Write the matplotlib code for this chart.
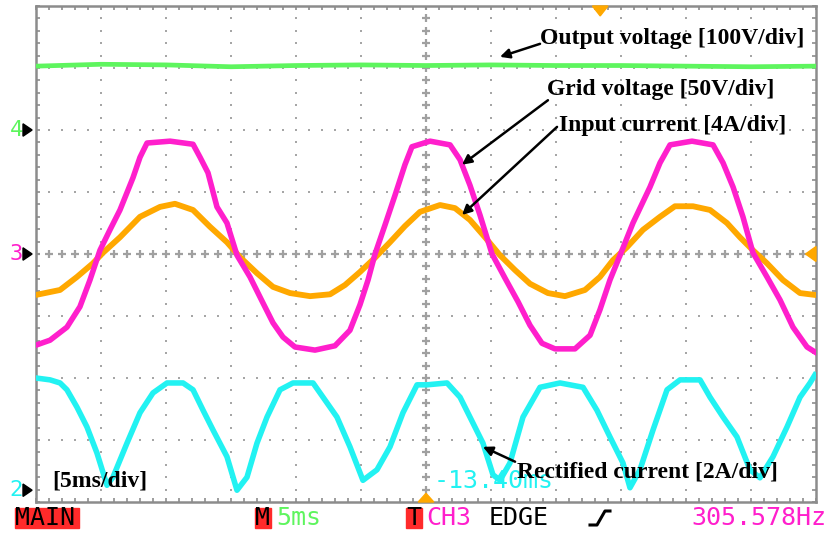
"""Oscilloscope capture: output voltage, grid voltage, input current and
rectified current (5 ms/div). Renders out.png (832x533)."""
import numpy as np
import matplotlib
matplotlib.use("Agg")
import matplotlib.pyplot as plt
from matplotlib.patches import Rectangle, Polygon

# time in ms (5 ms/div), values in screen divisions (0 = centre line)
out_t = [-30, -25, -20, -15, -10, -5, 0, 5, 10, 15, 20, 25, 30]
out_v = [3.03, 3.06, 3.05, 3.02, 3.04, 3.05, 3.04, 3.05, 3.04, 3.04, 3.03, 3.02, 3.03]

grid_t = [-30.0, -28.92, -27.62, -26.62, -25.85, -25.08, -24.31, -23.54, -22.54, -22.0,
          -21.46, -19.69, -17.92, -17.38, -16.77, -16.08, -15.31, -14.54, -13.54, -12.54,
          -11.77, -11.0, -10.08, -8.54, -7.0, -5.85, -5.08, -4.46, -3.92, -3.15,
          -2.38, -1.62, -1.08, 0.31, 1.85, 2.62, 3.38, 4.15, 5.08, 6.08,
          7.08, 8.0, 8.92, 9.92, 11.46, 12.62, 13.38, 14.15, 15.08, 15.92,
          17.23, 18.0, 18.77, 20.46, 22.08, 22.85, 23.62, 24.38, 25.15, 26.23,
          27.23, 28.23, 29.31, 29.92]
grid_v = [-1.47, -1.39, -1.18, -0.85, -0.42, 0.06, 0.39, 0.71, 1.23, 1.56,
          1.79, 1.82, 1.77, 1.56, 1.31, 0.76, 0.50, -0.02, -0.37, -0.79,
          -1.11, -1.34, -1.50, -1.55, -1.48, -1.23, -0.82, -0.42, 0.0, 0.47,
          0.95, 1.44, 1.73, 1.82, 1.76, 1.52, 1.11, 0.63, 0.0, -0.39,
          -0.77, -1.15, -1.44, -1.53, -1.53, -1.31, -0.90, -0.42, 0.06, 0.50,
          1.08, 1.47, 1.76, 1.82, 1.76, 1.47, 1.08, 0.60, 0.02, -0.37,
          -0.74, -1.18, -1.50, -1.58]

iin_t = [-30.0, -28.15, -26.85, -25.62, -24.85, -23.54, -22.0, -20.46, -19.31, -17.92,
         -16.62, -15.31, -14.31, -13.0, -11.77, -10.46, -8.92, -7.38, -6.23, -5.08,
         -3.92, -2.77, -1.62, -0.46, 1.08, 2.23, 3.38, 4.54, 5.69, 6.85,
         8.0, 9.38, 10.69, 12.23, 13.38, 14.38, 15.46, 16.69, 18.0, 19.15,
         20.54, 21.85, 23.15, 24.15, 25.15, 26.23, 27.46, 28.77, 29.92]
iin_v = [-0.66, -0.58, -0.37, -0.15, 0.02, 0.27, 0.60, 0.76, 0.81, 0.71,
         0.44, 0.19, -0.05, -0.31, -0.53, -0.63, -0.68, -0.65, -0.50, -0.29,
         -0.06, 0.19, 0.45, 0.68, 0.79, 0.74, 0.55, 0.27, -0.02, -0.26,
         -0.48, -0.63, -0.68, -0.58, -0.37, -0.10, 0.11, 0.39, 0.60, 0.77,
         0.77, 0.71, 0.50, 0.27, 0.06, -0.15, -0.42, -0.63, -0.66]

rect_t = [-30.0, -28.92, -28.15, -27.62, -26.85, -26.08, -25.31, -24.85, -24.54, -24.08,
          -23.0, -22.0, -21.0, -19.92, -18.69, -17.92, -17.15, -16.38, -15.31, -14.54,
          -13.77, -13.0, -12.23, -11.23, -10.23, -8.69, -7.92, -6.85, -5.85, -4.85,
          -3.77, -2.77, -1.77, -0.69, 0.08, 1.62, 2.62, 3.62, 4.38, 5.15,
          5.69, 6.46, 7.46, 8.77, 10.31, 12.08, 13.15, 14.15, 15.15, 15.69,
          16.46, 17.46, 18.54, 19.54, 21.08, 21.85, 22.85, 23.92, 24.92, 25.69,
          26.69, 27.77, 28.77, 29.54, 29.92]
rect_v = [-2.00, -2.03, -2.08, -2.19, -2.47, -2.79, -3.21, -3.52, -3.73, -3.60,
          -3.05, -2.56, -2.24, -2.08, -2.08, -2.19, -2.52, -2.84, -3.27, -3.81,
          -3.60, -3.05, -2.63, -2.19, -2.08, -2.08, -2.31, -2.63, -3.11, -3.65,
          -3.48, -3.11, -2.56, -2.11, -2.11, -2.08, -2.31, -2.73, -3.05, -3.56,
          -3.65, -3.37, -2.63, -2.15, -2.08, -2.15, -2.52, -2.95, -3.37, -3.77,
          -3.48, -2.84, -2.19, -2.03, -2.03, -2.31, -2.63, -2.95, -3.48, -3.61,
          -3.27, -2.79, -2.31, -2.08, -1.95]

GREEN, MAGENTA, ORANGE, CYAN = "#5ef55e", "#ff1fcc", "#ffa800", "#22f2f2"
GRAY = "#8c8c8c"
SERIF = "Liberation Serif"
MONO = "DejaVu Sans Mono"

fig = plt.figure(figsize=(8.32, 5.33), dpi=100)
ax = fig.add_axes([36 / 832, 31 / 533, 780 / 832, 496 / 533])
ax.set_xlim(-30, 30)
ax.set_ylim(-4, 4)

# graticule: dotted major lines, crosses on centre lines, ticks on the frame
minor_x = np.arange(-30, 30.01, 1)
minor_y = np.arange(-4, 4.01, 0.2)
for gx in range(-25, 26, 5):
    if gx != 0:
        ax.plot([gx] * len(minor_y), minor_y, ls="none", marker="s", ms=1.6,
                color="#a6a6a6", mew=0, zorder=1)
for gy in range(-3, 4):
    if gy != 0:
        ax.plot(minor_x, [gy] * len(minor_x), ls="none", marker="s", ms=1.6,
                color="#a6a6a6", mew=0, zorder=1)
ax.plot(minor_x, [0] * len(minor_x), ls="none", marker="+", ms=6, mew=1.6,
        color="#a0a0a0", zorder=1)
ax.plot([0] * len(minor_y), minor_y, ls="none", marker="+", ms=6, mew=1.6,
        color="#a0a0a0", zorder=1)

ax.set_xticks(np.arange(-30, 31, 5))
ax.set_yticks(np.arange(-4, 5, 1))
ax.set_xticks(minor_x, minor=True)
ax.set_yticks(minor_y, minor=True)
ax.tick_params(which="both", direction="in", length=3, width=1.2, color=GRAY,
               top=True, right=True, labelbottom=False, labelleft=False)
for s in ax.spines.values():
    s.set_color(GRAY)
    s.set_linewidth(1.8)

# traces
ax.plot(out_t, out_v, color=GREEN, lw=3.4, zorder=3)
ax.plot(iin_t, iin_v, color=ORANGE, lw=4.2, zorder=3)
ax.plot(grid_t, grid_v, color=MAGENTA, lw=4.0, zorder=4)
ax.plot(rect_t, rect_v, color=CYAN, lw=4.0, zorder=4)

# annotations
txt = dict(fontsize=17, fontweight="bold", family=SERIF, ha="left", va="center", zorder=6)
arr = dict(arrowstyle="-|>", color="black", lw=1.8, mutation_scale=14, shrinkA=0, shrinkB=0)
ax.text(8.77, 3.48, "Output voltage [100V/div]", **txt)
ax.annotate("", xy=(5.69, 3.18), xytext=(8.77, 3.39), arrowprops=arr, zorder=6)
ax.text(9.31, 2.65, "Grid voltage [50V/div]", **txt)
ax.annotate("", xy=(2.77, 1.44), xytext=(9.38, 2.48), arrowprops=arr, zorder=6)
ax.text(10.23, 2.08, "Input current [4A/div]", **txt)
ax.annotate("", xy=(2.77, 0.63), xytext=(10.08, 2.05), arrowprops=arr, zorder=6)
ax.text(7.0, -3.52, "Rectified current [2A/div]", **txt)
ax.annotate("", xy=(4.38, -3.11), xytext=(6.85, -3.35), arrowprops=arr, zorder=6)

t5 = ax.text(-28.77, -3.50, "[5ms/div]", fontsize=17, fontweight="bold",
             family=SERIF, ha="left", va="top", zorder=6)
clip = Rectangle((-30, -3.77), 20, 2, transform=ax.transData)
t5.set_clip_path(clip)

ax.text(0.6, -3.66, "-13.40ms", color=CYAN, family=MONO, fontsize=18,
        ha="left", va="center", zorder=5)

# orange trigger markers
ax.add_patch(Polygon([[12.8, 4.0], [14.0, 4.0], [13.4, 3.84]], closed=True,
                     color=ORANGE, clip_on=False, zorder=7))
ax.add_patch(Polygon([[-0.6, -4.0], [0.6, -4.0], [0.0, -3.86]], closed=True,
                     color=ORANGE, clip_on=False, zorder=7))
ax.add_patch(Polygon([[30.0, 0.12], [30.0, -0.12], [29.2, 0.0]], closed=True,
                     color=ORANGE, clip_on=False, zorder=7))

# channel ground markers on the left
for yv, lab, col in [(2.0, "4", GREEN), (0.0, "3", MAGENTA), (-3.81, "2", CYAN)]:
    ax.add_patch(Polygon([[-31.0, yv + 0.1], [-31.0, yv - 0.1], [-30.3, yv]],
                         closed=True, color="black", clip_on=False, zorder=7))
    ax.text(-31.0, yv, lab, color=col, family=MONO, fontsize=16, ha="right",
            va="center", clip_on=False)

# status bar
bar = dict(family=MONO, fontsize=18, va="center", ha="left")
fig.add_artist(Rectangle((15, 5), 64, 20, transform=None, color="#ff2a2a", zorder=1))
fig.text(15 / 832, 15 / 533, "MAIN", color="black", **bar)
fig.add_artist(Rectangle((255, 5), 16, 20, transform=None, color="#ff2a2a", zorder=1))
fig.text(255 / 832, 15 / 533, "M", color="black", **bar)
fig.text(276 / 832, 15 / 533, "5ms", color=GREEN, **bar)
fig.add_artist(Rectangle((406, 5), 16, 20, transform=None, color="#ff2a2a", zorder=1))
fig.text(406 / 832, 15 / 533, "T", color="black", **bar)
fig.text(426 / 832, 15 / 533, "CH3", color=MAGENTA, **bar)
fig.text(489 / 832, 15 / 533, "EDGE", color="black", **bar)
fig.add_artist(plt.Line2D([590 / 832, 597 / 832, 605 / 832, 610 / 832],
                          [8 / 533, 8 / 533, 22 / 533, 22 / 533],
                          color="black", lw=2.2, transform=fig.transFigure))
fig.text(691 / 832, 15 / 533, "305.578Hz", color=MAGENTA, **bar)

fig.savefig("out.png", dpi=100)
